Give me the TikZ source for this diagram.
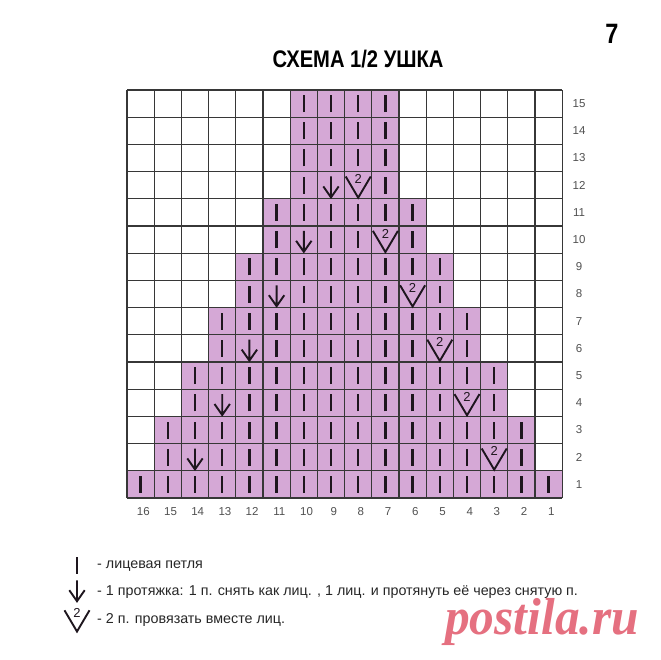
\documentclass[tikz,border=0pt]{standalone}
\usepackage{fontspec}
\setmainfont{Liberation Sans}
\newfontfamily\titlefont[FakeStretch=0.84]{Liberation Sans}
\newfontfamily\markfont[FakeStretch=0.95]{Liberation Serif}

\definecolor{chartfill}{RGB}{213,168,214}
\definecolor{gridgray}{RGB}{55,55,55}
\definecolor{ink}{RGB}{30,22,30}
\definecolor{numgray}{RGB}{80,80,80}
\definecolor{markpink}{RGB}{229,112,128}

\tikzset{
	knitbar/.pic={\draw[ink, line width=2.5pt] (0,-8.5pt) -- (0,8.5pt);},
	pullarrow/.pic={\draw[ink, line width=1.9pt] (0,8.7pt) -- (0,-12.2pt)
		(-7.7pt,-1.2pt) -- (0,-12.2pt) -- (7.7pt,-1.2pt);},
	togvee/.pic={\draw[ink, line width=1.9pt] (-12.5pt,8.7pt) -- (0,-12.5pt) -- (12.5pt,8.7pt);
		\node (two) [inner sep=0pt, text=ink, font=\fontsize{13}{13}\selectfont] at (0,6pt) {2};}
}

\begin{document}
\begin{tikzpicture} [
						x=1pt, y=-1pt,
						chartline/.style={draw=gridgray, line width=1.1pt},
						num/.style={text=numgray, font=\fontsize{11.5}{12}\selectfont},
						legendtext/.style={anchor=base west, text=black!85, font=\fontsize{14.3}{16}\selectfont}
					]
\useasboundingbox (0,0) rectangle (660,660);

\node (title) [anchor=base, font=\titlefont\bfseries\fontsize{24}{26}\selectfont] at (358,68) {СХЕМА 1/2 УШКА};
\node (page) [anchor=base, font=\titlefont\bfseries\fontsize{28}{30}\selectfont] at (612,44) {7};

\begin{scope}[shift={(127pt,-498pt)}, x=27.2pt, y=27.2pt]
	\fill[chartfill] (0,0) -- (16,0) -- (16,1) -- (15,1) -- (15,3) -- (14,3) -- (14,5) -- (13,5)
		-- (13,7) -- (12,7) -- (12,9) -- (11,9) -- (11,11) -- (10,11) -- (10,15) -- (6,15)
		-- (6,11) -- (5,11) -- (5,9) -- (4,9) -- (4,7) -- (3,7) -- (3,5) -- (2,5) -- (2,3)
		-- (1,3) -- (1,1) -- (0,1) -- cycle;
	\foreach \i in {0,...,16} \draw[chartline] (\i,0) -- (\i,15);
	\foreach \j in {0,...,15} \draw[chartline] (0,\j) -- (16,\j);

	\foreach \r/\lo/\hi in {1/1/16,2/2/15,3/2/15,4/3/14,5/3/14,6/4/13,7/4/13,8/5/12,
			9/5/12,10/6/11,11/6/11,12/7/10,13/7/10,14/7/10,15/7/10} {
		\pgfmathtruncatemacro\arrcol{(mod(\r,2)==0 && \r<13) ? 15-\r/2 : 0}
		\pgfmathtruncatemacro\togcol{(mod(\r,2)==0 && \r<13) ? 2+\r/2 : 0}
		\foreach \c in {\lo,...,\hi} {
			\ifnum\c=\arrcol \pic at (16.5-\c,\r-0.5) {pullarrow};
			\else\ifnum\c=\togcol \pic at (16.5-\c,\r-0.5) {togvee};
			\else \pic at (16.5-\c,\r-0.5) {knitbar};
			\fi\fi
		}
	}

	\foreach \r in {1,...,15} \node (r\r) [num] at (16.62,\r-0.5) {\r};
	\foreach \c in {1,...,16} \node (c\c) [num] at (16.6-\c,-0.51) {\c};
\end{scope}

% legend
\pic at (77,565) {knitbar};
\pic at (77,589) {pullarrow};
\pic at (77,619) {togvee};
\node (l1) [legendtext] at (93.7,568) {- лицевая петля};
\node (l2) [legendtext] at (93.7,595) {- 1 протяжка: 1 п. снять как лиц. , 1 лиц. и протянуть её через снятую п.};
\node (l3) [legendtext] at (93.7,623) {- 2 п. провязать вместе лиц.};

\node (mark) [anchor=base, text=markpink, font=\markfont\bfseries\itshape\fontsize{52}{54}\selectfont] at (542,634) {postila.ru};
\end{tikzpicture}
\end{document}
